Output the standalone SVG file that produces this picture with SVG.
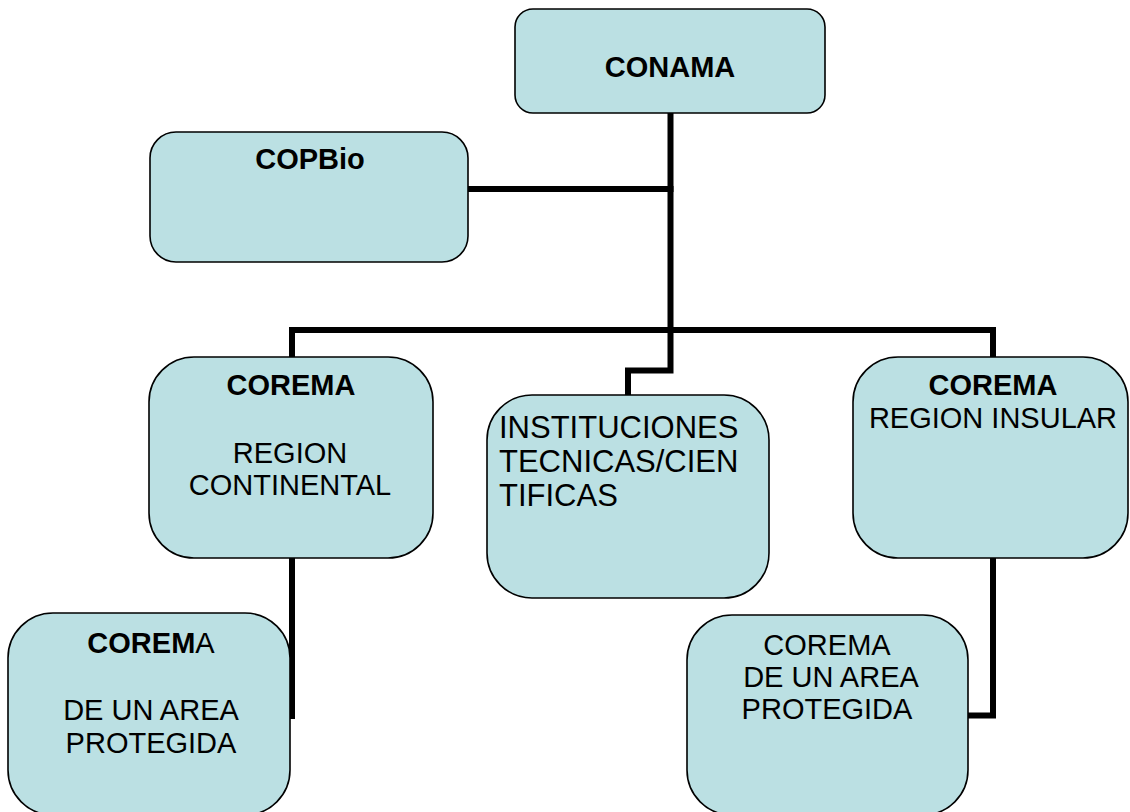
<svg xmlns="http://www.w3.org/2000/svg" width="1130" height="812" viewBox="0 0 1130 812">
<style>
.box{fill:#BBE0E3;stroke:#000;stroke-width:1.6}
.ln{fill:none;stroke:#000;stroke-width:6;stroke-linejoin:miter;stroke-linecap:square}
text{font-family:"Liberation Sans",Arial,sans-serif;font-size:29px;fill:#000}
.b{font-weight:bold}
.c{text-anchor:middle}
</style>
<rect width="1130" height="812" fill="#fff"/>
<g id="connectors">
<polyline class="ln" points="670.5,113 670.5,370.5 628,370.5 628,395"/>
<polyline class="ln" points="468,189 670.5,189"/>
<polyline class="ln" points="292,357 292,330 993,330 993,357"/>
<polyline class="ln" points="292,558 292,716"/>
<polyline class="ln" points="993,558 993,715.5 968,715.5"/>
</g>
<g id="conama">
<rect class="box" x="515" y="9" width="310" height="104" rx="18"/>
<text class="b c" x="670" y="77">CONAMA</text>
</g>
<g id="copbio">
<rect class="box" x="150" y="132" width="318" height="130" rx="26"/>
<text class="b c" x="310" y="169">COPBio</text>
</g>
<g id="corema-continental">
<rect class="box" x="149" y="357" width="284" height="201" rx="45"/>
<text class="b c" x="291" y="395">COREMA</text>
<text class="c" x="290" y="463">REGION</text>
<text class="c" x="290" y="495">CONTINENTAL</text>
</g>
<g id="instituciones">
<rect class="box" x="487" y="395" width="282" height="203" rx="45"/>
<text x="499" y="438" style="font-size:31px">INSTITUCIONES</text>
<text x="499" y="472" style="font-size:31px">TECNICAS/CIEN</text>
<text x="499" y="506" style="font-size:31px">TIFICAS</text>
</g>
<g id="corema-insular">
<rect class="box" x="853" y="357" width="275" height="201" rx="45"/>
<text class="b c" x="993" y="395">COREMA</text>
<text class="c" x="993" y="428">REGION INSULAR</text>
</g>
<g id="corema-area-1">
<rect class="box" x="8" y="613" width="282" height="202" rx="45"/>
<text class="c" x="151" y="653"><tspan class="b">COREM</tspan>A</text>
<text class="c" x="151" y="720">DE UN AREA</text>
<text class="c" x="151" y="753">PROTEGIDA</text>
</g>
<g id="corema-area-2">
<rect class="box" x="687" y="615" width="281" height="200" rx="45"/>
<text class="c" x="827" y="655">COREMA</text>
<text class="c" x="831" y="687">DE UN AREA</text>
<text class="c" x="827" y="719">PROTEGIDA</text>
</g>
</svg>
